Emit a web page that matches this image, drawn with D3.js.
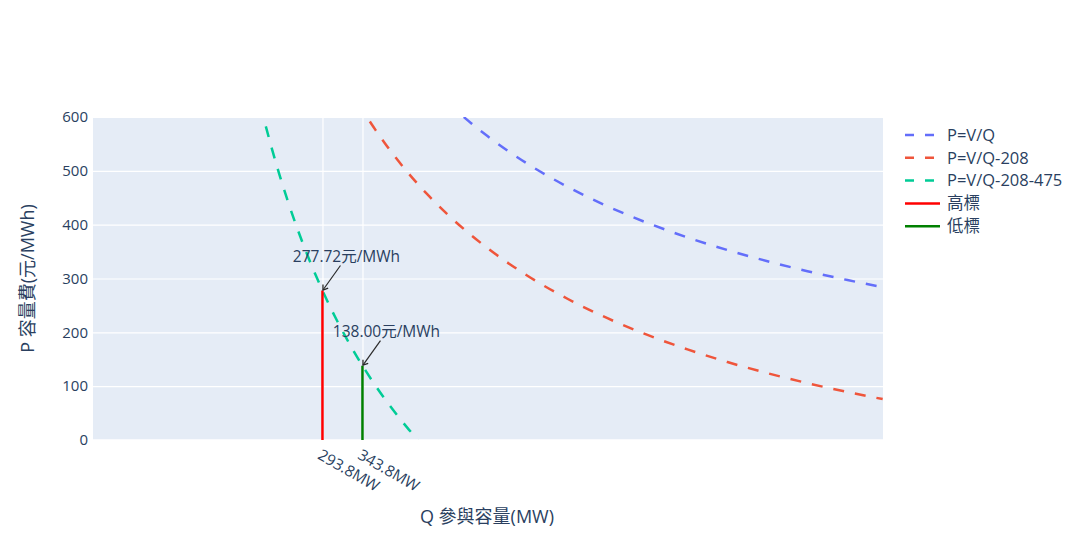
<!DOCTYPE html>
<html><head><meta charset="utf-8">
<script src="https://cdn.jsdelivr.net/npm/d3@7"></script>
<style>
html,body{margin:0;padding:0;background:#fff;}
svg text{font-family:"Open Sans","Noto Sans CJK TC",sans-serif;fill:#2a3f5f;}
</style></head><body>
<svg id="chart" width="1078" height="534"></svg>
<script>
// ---- data ----
const seriesNames = ["P=V/Q", "P=V/Q-208", "P=V/Q-208-475", "高標", "低標"];
const blueQ = [470.4, 480, 500, 525, 550, 575, 600, 650, 700, 750, 800, 850, 900, 950, 994];
const blueP = [600.0, 588.0, 564.5, 537.6, 513.2, 490.9, 470.4, 434.2, 403.2, 376.3, 352.8, 332.1, 313.6, 297.1, 284.0];
const redQ = [353, 360, 375, 400, 425, 450, 475, 500, 550, 600, 650, 700, 750, 800, 850, 900, 950, 994];
const redP = [591.6, 576.1, 544.7, 497.6, 456.1, 419.2, 386.2, 356.5, 305.2, 262.4, 226.2, 195.2, 168.3, 144.8, 124.1, 105.6, 89.1, 76.0];
const greenQ = [223, 230, 240, 250, 260, 270, 280, 293.8, 310, 325, 343.8, 360, 375, 390, 400, 413.3];
const greenP = [582.7, 544.2, 493.1, 446.0, 402.6, 362.4, 325.1, 277.7, 227.5, 185.5, 138.0, 101.1, 69.7, 40.7, 22.6, 0];
const highQ = [293.8, 293.8];
const highP = [0, 277.72];
const lowQ = [343.8, 343.8];
const lowP = [0, 138.00];
const xTickValues = [293.8, 343.8];
const xTickLabels = ["293.8MW", "343.8MW"];
const yTickValues = [0, 100, 200, 300, 400, 500, 600];
const annotationTexts = ["277.72元/MWh", "138.00元/MWh"];
const annotationQ = [293.8, 343.8];
const annotationP = [277.72, 138.00];
const xTitle = "Q 參與容量(MW)";
const yTitle = "P 容量費(元/MWh)";

// ---- layout ----
const svg = d3.select("#chart");
const L = 93, R = 883, T = 117, B = 440;
const x = d3.scaleLinear().domain([7, 994.4]).range([L, R]);
const y = d3.scaleLinear().domain([0, 600]).range([B, T]);

svg.append("defs").append("marker")
  .attr("id", "ah").attr("viewBox", "-5 -4 6 8")
  .attr("refX", 0).attr("refY", 0)
  .attr("markerWidth", 6).attr("markerHeight", 8)
  .attr("markerUnits", "userSpaceOnUse")
  .attr("orient", "auto")
  .append("path").attr("d", "M-4.5,-3.2L0,0L-4.5,3.2").attr("fill", "none")
  .attr("stroke", "#2a2a2a").attr("stroke-width", 1.3);

svg.append("rect").attr("x", L).attr("y", T).attr("width", R - L).attr("height", B - T).attr("fill", "#E5ECF6");

// gridlines
const gx = svg.append("g").attr("transform", `translate(0,${B})`)
  .call(d3.axisBottom(x).tickValues(xTickValues).tickSize(-(B - T)).tickFormat(""));
gx.select(".domain").remove();
gx.selectAll("line").attr("stroke", "#fff").attr("stroke-width", 1.2);

const gy = svg.append("g").attr("transform", `translate(${L},0)`)
  .call(d3.axisLeft(y).tickValues(yTickValues).tickSize(-(R - L)).tickFormat(""));
gy.select(".domain").remove();
gy.selectAll("line").attr("stroke", "#fff").attr("stroke-width", d => d === 0 ? 2.5 : 1.2);

// y tick labels
const yl = svg.append("g").attr("transform", `translate(${L},0)`)
  .call(d3.axisLeft(y).tickValues(yTickValues).tickSize(0).tickPadding(5));
yl.select(".domain").remove();
yl.selectAll("text").style("font-size", "15px").attr("fill", "#2a3f5f")
  .style("font-family", '"Open Sans",sans-serif');

// x tick labels rotated
svg.append("g").selectAll("text").data(xTickValues).join("text")
  .attr("transform", d => `translate(${x(d)},${B + 8}) rotate(30)`)
  .attr("dy", "0.75em")
  .attr("text-anchor", "start")
  .style("font-size", "15.5px")
  .text((d, i) => xTickLabels[i]);

// traces
const clip = svg.append("clipPath").attr("id", "clip").append("rect")
  .attr("x", L).attr("y", T).attr("width", R - L).attr("height", B - T);
const plot = svg.append("g").attr("clip-path", "url(#clip)");
const line = d3.line().x(d => x(d[0])).y(d => y(d[1])).curve(d3.curveMonotoneX);
const lineStraight = d3.line().x(d => x(d[0])).y(d => y(d[1]));
const traces = [
  {q: blueQ, p: blueP, color: "#636efa", dash: "11,11", curve: true},
  {q: redQ, p: redP, color: "#EF553B", dash: "11,11", curve: true},
  {q: greenQ, p: greenP, color: "#00cc96", dash: "11,11", curve: true},
  {q: highQ, p: highP, color: "#ff0000", dash: null, curve: false},
  {q: lowQ, p: lowP, color: "#008000", dash: null, curve: false}
];
traces.forEach(t => {
  const pts = t.q.map((q, i) => [q, t.p[i]]);
  plot.append("path").attr("d", (t.curve ? line : lineStraight)(pts))
    .attr("fill", "none").attr("stroke", t.color).attr("stroke-width", 2.5)
    .attr("stroke-dasharray", t.dash);
});

// annotations
annotationTexts.forEach((txt, i) => {
  const tx = x(annotationQ[i]), ty = y(annotationP[i]);
  svg.append("line").attr("x1", tx + 18).attr("y1", ty - 25)
    .attr("x2", tx + 0.5).attr("y2", ty - 0.5)
    .attr("stroke", "#2a2a2a").attr("stroke-width", 1.2)
    .attr("marker-end", "url(#ah)");
  svg.append("text").attr("x", tx + 24).attr("y", ty - 34)
    .attr("dy", "0.35em").attr("text-anchor", "middle")
    .style("font-size", "15.5px").text(txt);
});

// axis titles
svg.append("text").attr("x", (L + R) / 2 - 1).attr("y", 517).attr("dy", "0.35em")
  .attr("text-anchor", "middle").style("font-size", "18px").text(xTitle);
svg.append("text").attr("transform", `translate(28,${(T + B) / 2}) rotate(-90)`)
  .attr("dy", "0.35em").attr("text-anchor", "middle").style("font-size", "18px").text(yTitle);

// legend
const legY0 = 135, legDy = 22.8;
const leg = svg.append("g");
traces.forEach((t, i) => {
  const yy = legY0 + i * legDy;
  leg.append("line").attr("x1", 905).attr("x2", 940).attr("y1", yy).attr("y2", yy)
    .attr("stroke", t.color).attr("stroke-width", 2.5).attr("stroke-dasharray", t.dash ? "9,11" : null);
  leg.append("text").attr("x", 947).attr("y", yy).attr("dy", "0.35em")
    .style("font-size", "16.5px").text(seriesNames[i]);
});
</script>
</body></html>
